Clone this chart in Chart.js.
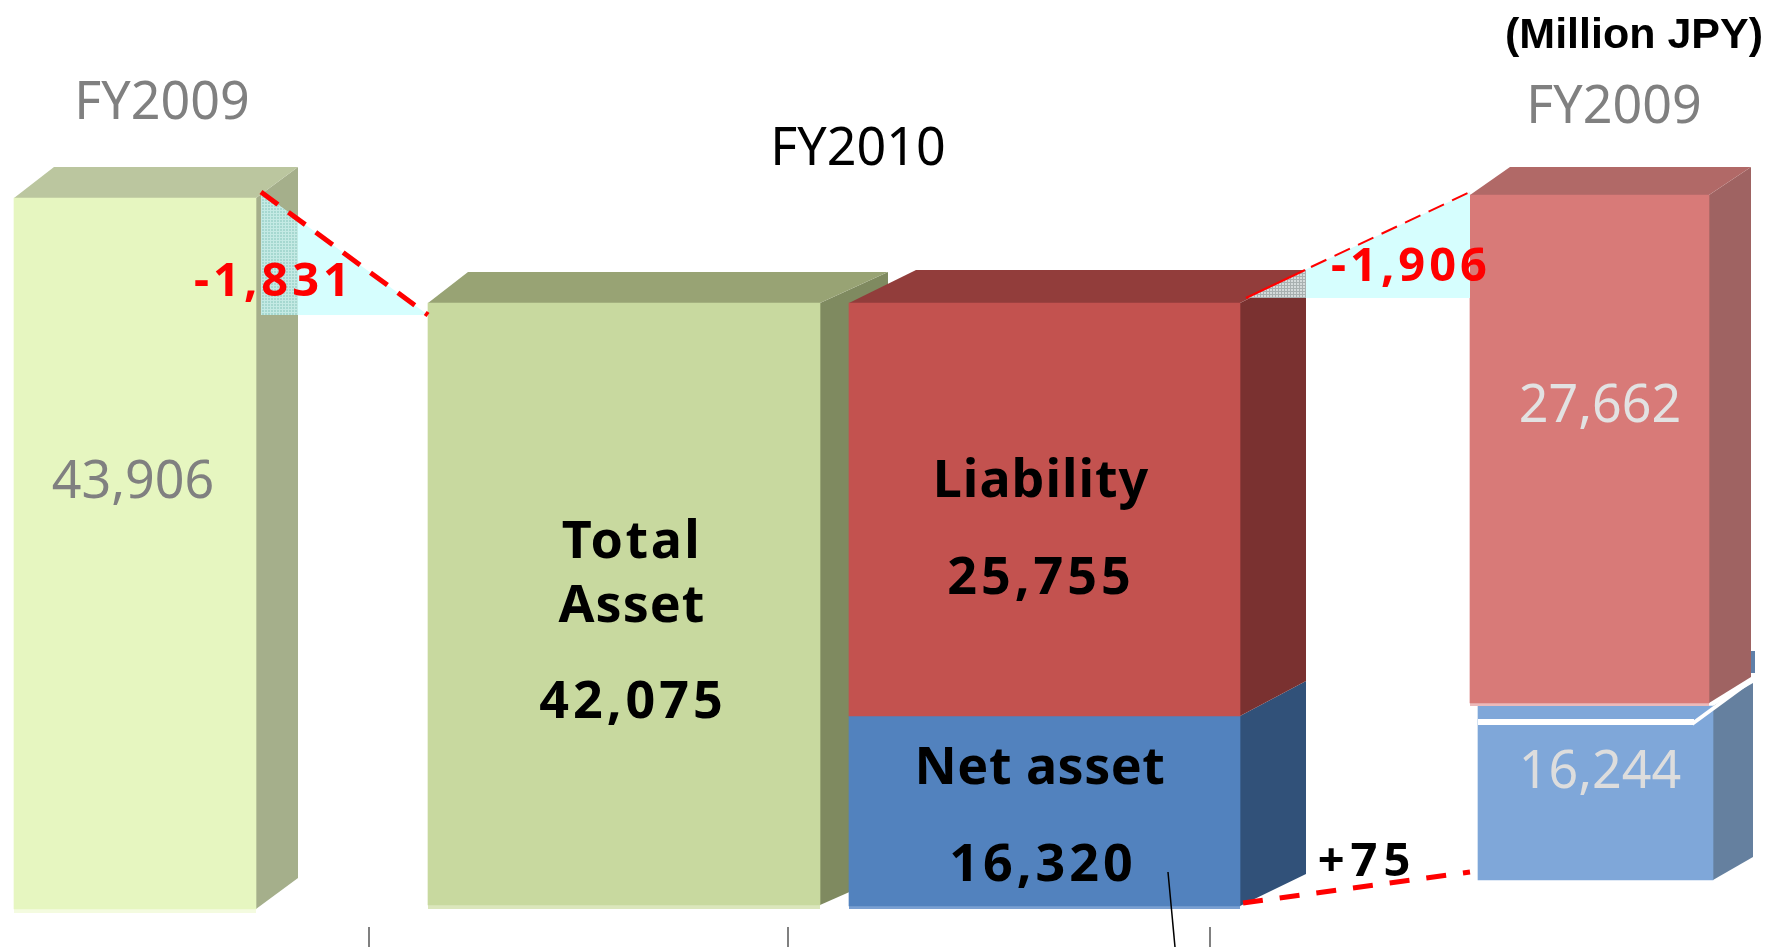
<!DOCTYPE html>
<html>
<head>
<meta charset="utf-8">
<style>html,body{margin:0;padding:0;background:#fff;overflow:hidden}canvas{display:block}</style>
<script src="https://cdn.jsdelivr.net/npm/chart.js@4"></script>
</head>
<body>
<canvas id="c" width="1765" height="947"></canvas>
<script>
// ---- data ----
const categories = ['FY2009 Liability','FY2009 Net asset','FY2010 Liability','FY2010 Net asset','FY2010 Total Asset','FY2009 Total Asset'];
const values = [27662, 16244, 25755, 16320, 42075, 43906];
const changeLabels = ['-1,831', '-1,906', '+75'];
const periodLabels = ['FY2009', 'FY2010', 'FY2009'];
const unitLabel = '(Million JPY)';

// ---- geometry and style (the source picture is a pseudo-3D sketch, each block has its own vertical scale) ----
const W = 1765, H = 947;
const geom = [
 {x0:1470,x1:1709,base:703,top:195,dxL:40,dxR:42,dyT:28,dyB:26,front:'#D87A78',topC:'#B16967',side:'#9F6362',strip:'#EBBABA',stripH:3},
 {x0:1478,x1:1713,base:880,top:706,dxL:0,dxR:40,dyT:23,dyB:23,front:'#7FA7D9',side:'#65809F'},
 {x0:849,x1:1240,base:716,top:303,dxL:67,dxR:66,dyT:33,dyB:35,front:'#C3524F',topC:'#923D3B',side:'#7A3130'},
 {x0:849,x1:1240,base:906,top:716,dxL:0,dxR:66,dyT:35,dyB:32,front:'#5282BE',side:'#315179',strip:'#7BA0D2',stripH:3},
 {x0:428,x1:820,base:905,top:303,dxL:40,dxR:68,dyT:31,dyB:30,front:'#C8D99F',topC:'#98A374',side:'#7F8A60',strip:'#DBE6BC',stripH:4},
 {x0:14,x1:256,base:909,top:198,dxL:40,dxR:42,dyT:31,dyB:31,front:'#E6F6C0',topC:'#BBC69F',side:'#A5AF8B',strip:'#F4FBE0',stripH:4}
];
const fmt = v => v.toLocaleString('en-US');

const yScales = {};
const datasets = values.map((v,i)=>{
  const g = geom[i];
  const k = (g.base-g.top)/v;
  yScales['y'+i] = {display:false,min:-(H-g.base)/k,max:g.base/k};
  return {
    label:categories[i],
    yAxisID:'y'+i,
    data:[{x:(g.x0+g.x1)/2,y:v}],
    backgroundColor:g.front,
    barThickness:g.x1-g.x0,
    borderWidth:0,
    grouped:false
  };
});

function poly(ctx,pts,fill){
  ctx.beginPath();
  pts.forEach((p,i)=>i?ctx.lineTo(p[0],p[1]):ctx.moveTo(p[0],p[1]));
  ctx.closePath();
  ctx.fillStyle=fill;
  ctx.fill();
}
function hatch(ctx,bg,fg){
  const c=document.createElement('canvas');c.width=3;c.height=3;
  const t=c.getContext('2d');
  t.fillStyle=bg;t.fillRect(0,0,3,3);
  t.fillStyle=fg;t.fillRect(0,0,3,1);t.fillRect(0,0,1,3);
  return ctx.createPattern(c,'repeat');
}
function dashed(ctx,a,b,w,dash){
  ctx.save();
  ctx.strokeStyle='#FF0000';ctx.lineWidth=w;ctx.setLineDash(dash);
  ctx.beginPath();ctx.moveTo(a[0],a[1]);ctx.lineTo(b[0],b[1]);ctx.stroke();
  ctx.restore();
}
function text(ctx,s,x,y,font,color,spacing){
  ctx.font=font;ctx.fillStyle=color;ctx.textAlign='center';ctx.textBaseline='alphabetic';
  ctx.letterSpacing=(spacing||0)+'px';
  ctx.fillText(s,x,y);
  ctx.letterSpacing='0px';
}

const faces = {
  id:'faces',
  beforeDatasetDraw(chart,args){
    const ctx=chart.ctx, g=geom[args.index], el=args.meta.data[0];
    const l=el.x-el.width/2, r=el.x+el.width/2, t=el.y, b=el.base;
    ctx.save();
    if(args.index===1){ // sliver of the lower block showing behind the upper one
      ctx.fillStyle='#5F7FA8';ctx.fillRect(1751,651,4,22);
    }
    poly(ctx,[[r,t],[r+g.dxR,t-g.dyT],[r+g.dxR,b-g.dyB],[r,b]],g.side);
    if(g.topC) poly(ctx,[[l,t],[l+g.dxL,t-g.dyT],[r+g.dxR,t-g.dyT],[r,t]],g.topC);
    if(g.strip){ctx.fillStyle=g.strip;ctx.fillRect(l,b,r-l,g.stripH);}
    ctx.restore();
  },
  afterDatasetsDraw(chart){
    const ctx=chart.ctx;
    ctx.save();
    // white separator on the right-hand stack
    ctx.strokeStyle='#fff';
    ctx.lineWidth=6;
    ctx.beginPath();ctx.moveTo(1478,722);ctx.lineTo(1694,722);ctx.stroke();
    ctx.lineWidth=4;
    ctx.beginPath();ctx.moveTo(1692,724);ctx.lineTo(1752,680);ctx.stroke();
    // change wedges
    const wedgeL=[[261,192],[428,315],[261,315]];
    const wedgeR=[[1246,298],[1470,192],[1470,298]];
    poly(ctx,wedgeL,'#D6FEFE');
    poly(ctx,wedgeR,'#D6FEFE');
    ctx.save();
    ctx.beginPath();wedgeL.forEach((p,i)=>i?ctx.lineTo(p[0],p[1]):ctx.moveTo(p[0],p[1]));ctx.closePath();ctx.clip();
    ctx.fillStyle=hatch(ctx,'#A6D8D0','#C4EAE4');ctx.fillRect(261,185,37,135);
    ctx.restore();
    ctx.save();
    ctx.beginPath();wedgeR.forEach((p,i)=>i?ctx.lineTo(p[0],p[1]):ctx.moveTo(p[0],p[1]));ctx.closePath();ctx.clip();
    ctx.fillStyle=hatch(ctx,'#D4DADA','#A8B0B0');ctx.fillRect(1246,260,60,40);
    ctx.restore();
    dashed(ctx,[261,192],[428,315],5,[21,13]);
    dashed(ctx,[1246,298],[1305,270],2,[]);
    dashed(ctx,[1311,267],[1470,192],2,[17,9]);
    dashed(ctx,[1243,903],[1470,872],5,[20,17]);
    // cut-off leader ticks at the bottom
    ctx.strokeStyle='#808080';ctx.lineWidth=2;
    [369,788,1210].forEach(x=>{ctx.beginPath();ctx.moveTo(x,927);ctx.lineTo(x,H);ctx.stroke();});
    ctx.strokeStyle='#000';ctx.lineWidth=1.5;
    ctx.beginPath();ctx.moveTo(1168,872);ctx.lineTo(1175,H);ctx.stroke();
    // text
    const reg='52px "Noto Sans"', bold='bold 52px "Noto Sans"', red='bold 47px "Noto Sans"';
    text(ctx,unitLabel,1634,48,'bold 43px "Liberation Sans"','#000');
    text(ctx,periodLabels[0],162,119,reg,'#808080');
    text(ctx,periodLabels[1],858,165,reg,'#000');
    text(ctx,periodLabels[2],1614,123,reg,'#808080');
    text(ctx,fmt(values[5]),133,498,reg,'#808080');
    text(ctx,fmt(values[0]),1600,422,reg,'#E2E2E2');
    text(ctx,fmt(values[1]),1600,788,reg,'#DDDDDD');
    text(ctx,'Total',632,558,bold,'#000',2.5);
    text(ctx,'Asset',632,622,bold,'#000',1);
    text(ctx,fmt(values[4]),633,718,bold,'#000',4);
    text(ctx,'Liability',1041,497,bold,'#000',1);
    text(ctx,fmt(values[2]),1041,594,bold,'#000',4);
    text(ctx,'Net asset',1040,784,bold,'#000',0.5);
    text(ctx,fmt(values[3]),1043,881,bold,'#000',4);
    text(ctx,changeLabels[0],274,296,red,'#FF0000',4);
    text(ctx,changeLabels[1],1411,281,red,'#FF0000',4);
    text(ctx,changeLabels[2],1367,876,red,'#000',6);
    ctx.restore();
  }
};

new Chart(document.getElementById('c'),{
  type:'bar',
  data:{datasets},
  plugins:[faces],
  options:{
    responsive:false,
    animation:false,
    layout:{padding:0},
    plugins:{legend:{display:false},tooltip:{enabled:false},title:{display:false}},
    scales:Object.assign({x:{type:'linear',display:false,offset:false,min:0,max:W}},yScales)
  }
});
</script>
</body>
</html>
